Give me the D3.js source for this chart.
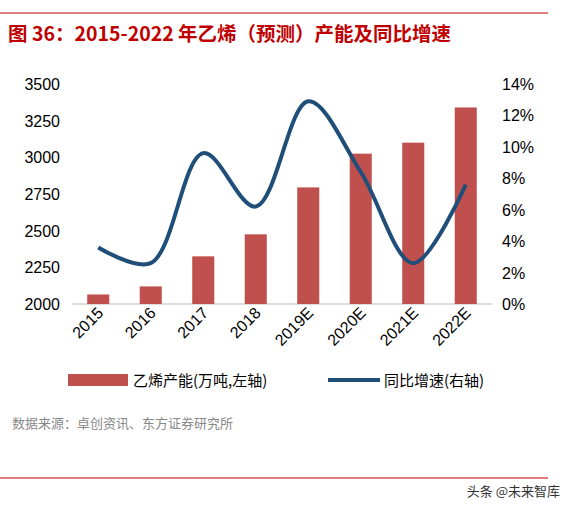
<!DOCTYPE html>
<html><head><meta charset="utf-8">
<script src="https://cdn.jsdelivr.net/npm/d3@7"></script>
<style>body{margin:0;background:#fff;font-family:"Noto Sans CJK SC","Noto Sans",sans-serif}</style>
</head><body>
<svg id="c" width="572" height="506"></svg>
<script>
var years = ['2015','2016','2017','2018','2019E','2020E','2021E','2022E'];
var capacity = [2065, 2120, 2325, 2475, 2795, 3025, 3100, 3340];
var growth = [3.6, 2.6, 9.6, 6.2, 12.9, 8.4, 2.6, 7.6];
var leftTicks = [2000, 2250, 2500, 2750, 3000, 3250, 3500];
var rightTicks = [0, 2, 4, 6, 8, 10, 12, 14];

var svg = d3.select('#c');
var red = '#c0504d', navy = '#1f4e79';

svg.append('line').attr('x1', 0).attr('x2', 548).attr('y1', 13).attr('y2', 13).attr('stroke', '#c00000').attr('stroke-width', 1.2);
svg.append('text').attr('x', 8).attr('y', 41).attr('fill', '#c00000').attr('font-size', 19.5).attr('font-weight', 'bold')
    .text('图 36：2015-2022 年乙烯（预测）产能及同比增速');

var x = d3.scaleBand().domain(years).range([72, 492]).paddingInner(0.58).paddingOuter(0.29);
var yl = d3.scaleLinear().domain([2000, 3500]).range([304, 84]);
var yr = d3.scaleLinear().domain([0, 14]).range([304, 84]);

svg.append('line').attr('x1', 72).attr('x2', 492).attr('y1', 304).attr('y2', 304).attr('stroke', '#bbb');

svg.selectAll('rect.bar').data(years).enter().append('rect')
    .attr('x', d => x(d)).attr('width', x.bandwidth())
    .attr('y', (d, i) => yl(capacity[i])).attr('height', (d, i) => 304 - yl(capacity[i]))
    .attr('fill', red);

var line = d3.line().x((d, i) => x(years[i]) + x.bandwidth() / 2).y(d => yr(d)).curve(d3.curveCatmullRom);
svg.append('path').attr('d', line(growth)).attr('fill', 'none').attr('stroke', navy).attr('stroke-width', 4);

svg.selectAll('text.l').data(leftTicks).enter().append('text')
    .attr('x', 60).attr('y', d => yl(d) + 6).attr('text-anchor', 'end')
    .attr('font-size', 16).attr('font-family', 'Liberation Sans, Arial').text(d => d);
svg.selectAll('text.r').data(rightTicks).enter().append('text')
    .attr('x', 502).attr('y', d => yr(d) + 6)
    .attr('font-size', 16).attr('font-family', 'Liberation Sans, Arial').text(d => d + '%');
svg.selectAll('text.x').data(years).enter().append('text')
    .attr('transform', d => 'translate(' + (x(d) + x.bandwidth() / 2 + 6) + ',314) rotate(-45)')
    .attr('text-anchor', 'end').attr('font-size', 16).attr('font-family', 'Liberation Sans, Arial').text(d => d);

svg.append('rect').attr('x', 68).attr('y', 374).attr('width', 60).attr('height', 12).attr('fill', red);
svg.append('text').attr('x', 133).attr('y', 386).attr('font-size', 15).text('乙烯产能(万吨,左轴)');
svg.append('line').attr('x1', 328).attr('x2', 380).attr('y1', 380).attr('y2', 380).attr('stroke', navy).attr('stroke-width', 4);
svg.append('text').attr('x', 384).attr('y', 386).attr('font-size', 15).text('同比增速(右轴)');

svg.append('text').attr('x', 12).attr('y', 428).attr('font-size', 13).attr('fill', '#888').text('数据来源：卓创资讯、东方证券研究所');
svg.append('line').attr('x1', 0).attr('x2', 548).attr('y1', 478).attr('y2', 478).attr('stroke', '#c00000').attr('stroke-width', 1.2);
svg.append('text').attr('x', 560).attr('y', 496).attr('text-anchor', 'end').attr('font-size', 13).attr('fill', '#333').text('头条 @未来智库');
</script>
</body></html>
